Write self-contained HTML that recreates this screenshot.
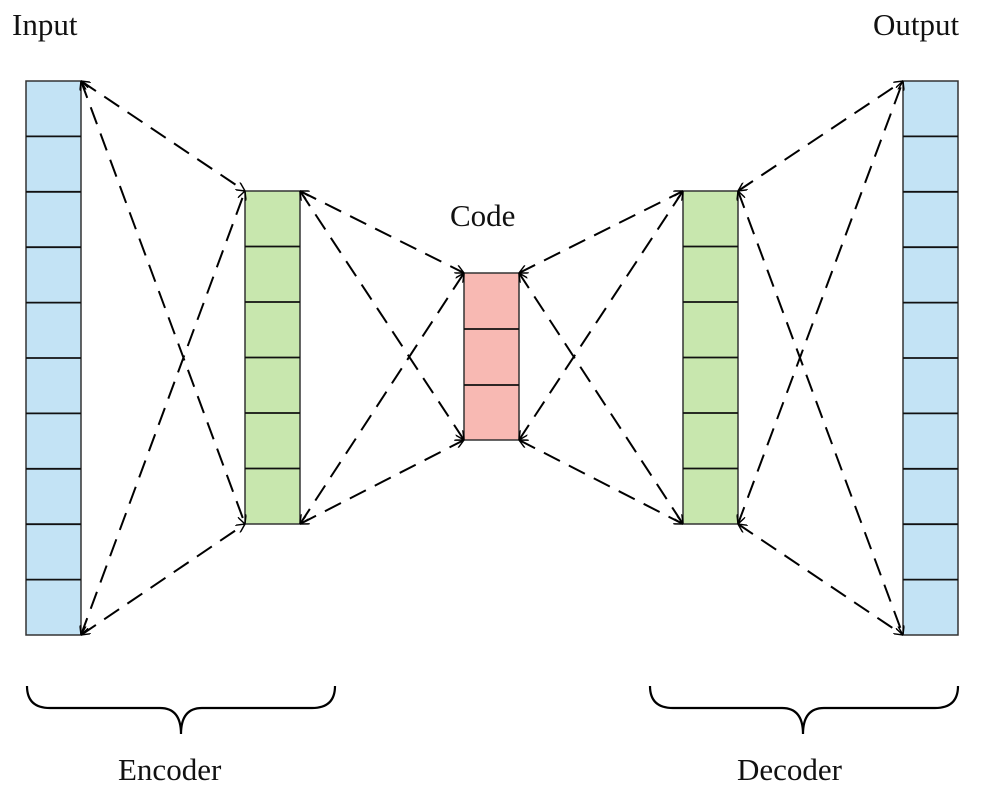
<!DOCTYPE html>
<html><head><meta charset="utf-8"><style>
html,body{margin:0;padding:0;background:#fff}
svg text{font-family:"Liberation Serif",serif;font-size:31px;fill:#111}
</style></head><body>
<svg width="1000" height="793" viewBox="0 0 1000 793" xmlns="http://www.w3.org/2000/svg">
<defs>
<marker id="a" viewBox="0 0 10 10" refX="10" refY="5" markerWidth="9" markerHeight="9" orient="auto-start-reverse" markerUnits="userSpaceOnUse">
<path d="M0,0 L10,5 L0,10" fill="none" stroke="#000" stroke-width="1.6"/>
</marker>
</defs>
<g fill="#c3e3f5" stroke="#333" stroke-width="1.5">
<rect x="26" y="81" width="55" height="554"/>
<rect x="903" y="81" width="55" height="554"/>
</g>
<g fill="#c8e7ae" stroke="#333" stroke-width="1.5">
<rect x="245" y="191" width="55" height="333"/>
<rect x="683" y="191" width="55" height="333"/>
</g>
<rect x="464" y="273" width="55" height="167" fill="#f8b9b3" stroke="#333" stroke-width="1.5"/>
<g stroke="#111" stroke-width="1.8">
<line x1="26" x2="81" y1="136.4" y2="136.4"/><line x1="26" x2="81" y1="191.8" y2="191.8"/><line x1="26" x2="81" y1="247.2" y2="247.2"/><line x1="26" x2="81" y1="302.6" y2="302.6"/><line x1="26" x2="81" y1="358" y2="358"/><line x1="26" x2="81" y1="413.4" y2="413.4"/><line x1="26" x2="81" y1="468.8" y2="468.8"/><line x1="26" x2="81" y1="524.2" y2="524.2"/><line x1="26" x2="81" y1="579.6" y2="579.6"/>
<line x1="903" x2="958" y1="136.4" y2="136.4"/><line x1="903" x2="958" y1="191.8" y2="191.8"/><line x1="903" x2="958" y1="247.2" y2="247.2"/><line x1="903" x2="958" y1="302.6" y2="302.6"/><line x1="903" x2="958" y1="358" y2="358"/><line x1="903" x2="958" y1="413.4" y2="413.4"/><line x1="903" x2="958" y1="468.8" y2="468.8"/><line x1="903" x2="958" y1="524.2" y2="524.2"/><line x1="903" x2="958" y1="579.6" y2="579.6"/>
<line x1="245" x2="300" y1="246.5" y2="246.5"/><line x1="245" x2="300" y1="302" y2="302"/><line x1="245" x2="300" y1="357.5" y2="357.5"/><line x1="245" x2="300" y1="413" y2="413"/><line x1="245" x2="300" y1="468.5" y2="468.5"/>
<line x1="683" x2="738" y1="246.5" y2="246.5"/><line x1="683" x2="738" y1="302" y2="302"/><line x1="683" x2="738" y1="357.5" y2="357.5"/><line x1="683" x2="738" y1="413" y2="413"/><line x1="683" x2="738" y1="468.5" y2="468.5"/>
<line x1="464" x2="519" y1="329" y2="329"/><line x1="464" x2="519" y1="385" y2="385"/>
</g>
<g stroke="#000" stroke-width="2" stroke-dasharray="18,10" fill="none" marker-start="url(#a)" marker-end="url(#a)">
<line x1="81" y1="81" x2="245" y2="191"/><line x1="81" y1="81" x2="245" y2="524"/>
<line x1="81" y1="635" x2="245" y2="191"/><line x1="81" y1="635" x2="245" y2="524"/>
<line x1="300" y1="191" x2="464" y2="273"/><line x1="300" y1="191" x2="464" y2="440"/>
<line x1="300" y1="524" x2="464" y2="273"/><line x1="300" y1="524" x2="464" y2="440"/>
<line x1="519" y1="273" x2="683" y2="191"/><line x1="519" y1="273" x2="683" y2="524"/>
<line x1="519" y1="440" x2="683" y2="191"/><line x1="519" y1="440" x2="683" y2="524"/>
<line x1="738" y1="191" x2="903" y2="81"/><line x1="738" y1="191" x2="903" y2="635"/>
<line x1="738" y1="524" x2="903" y2="81"/><line x1="738" y1="524" x2="903" y2="635"/>
</g>
<g stroke="#000" stroke-width="2.2" fill="none">
<path d="M27,686 Q27,708 50,708 L160,708 Q181,708 181,734 Q181,708 202,708 L312,708 Q335,708 335,686"/>
<path d="M650,686 Q650,708 673,708 L782,708 Q803,708 803,734 Q803,708 824,708 L935,708 Q958,708 958,686"/>
</g>
<text x="12" y="35">Input</text>
<text x="873" y="35">Output</text>
<text x="450" y="226">Code</text>
<text x="118" y="780">Encoder</text>
<text x="737" y="780">Decoder</text>
</svg>
</body></html>
